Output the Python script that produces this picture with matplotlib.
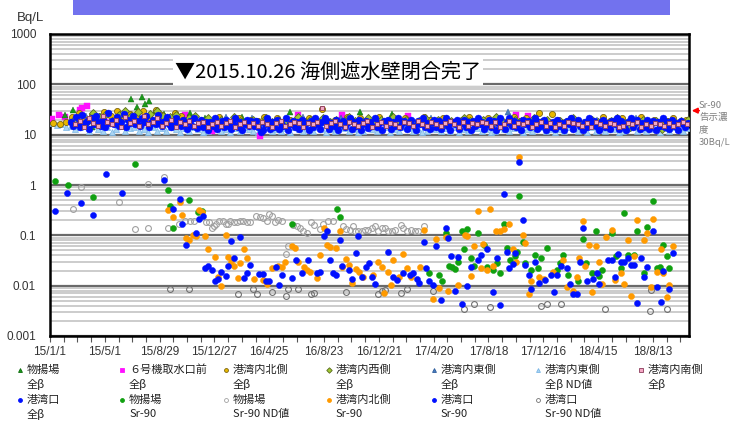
import numpy as np
import matplotlib
matplotlib.use("Agg")
import matplotlib.pyplot as plt
from matplotlib.lines import Line2D
from matplotlib.ticker import FixedLocator, NullFormatter
import matplotlib.dates as mdates

plt.rcParams['font.family'] = ['Noto Sans CJK JP', 'DejaVu Sans']

base = np.datetime64('2015-01-01')

# --- routine all-beta sampling (start day, interval in days, values Bq/L) ---
kouwanguchi_beta_start, kouwanguchi_beta_step = 46, 5
kouwanguchi_beta = [
    18, 15, 22, 16, 14, 25, 17, 19, 13, 21,
    16, 24, 18, 15, 20, 14, 27, 17, 19, 16,
    22, 15, 18, 26, 14, 20, 17, 23, 16, 19,
    15, 21, 18, 24, 14, 17, 20, 16, 25, 18,
    15, 19, 22, 16, 14, 18, 21, 17, 15, 20,
    16, 13, 19, 15, 21, 13.5, 17, 20, 14, 18,
    12.5, 18, 15, 21, 13, 16, 19, 14, 20, 15,
    13, 17, 21, 14, 18, 12.5, 16, 20, 15, 19,
    15, 19, 14, 11.5, 12.5, 16, 21, 13, 18, 14,
    20, 13, 17, 15, 21, 12.5, 16, 19, 14, 18,
    13, 20, 15, 17, 12.5, 19, 14, 21, 16, 13,
    18, 21, 19, 13, 17, 15, 20, 12.5, 16, 19,
    14, 17, 21, 13, 18, 15, 20, 12.5, 16, 19,
    13.5, 18, 15, 21, 14, 17, 12.5, 19, 16, 20,
    13, 18, 15, 21, 14, 17, 19, 13, 16, 20,
    15, 12.5, 19, 16, 21, 14, 17, 13, 18, 20,
    14, 19, 13, 17, 21, 15, 12.5, 18, 16, 20,
    13, 17, 20, 14, 18, 12.5, 19, 15, 21, 16,
    18, 13, 16, 20, 14, 19, 12.5, 17, 21, 15,
    13, 18, 21, 15, 19, 14, 17, 12.5, 20, 16,
    19, 14, 17, 21, 13, 18, 15, 20, 12.5, 16,
    14, 18, 13, 20, 15, 17, 12.5, 19, 16, 21,
    13, 17, 20, 15, 12.5, 18, 14, 21, 16, 19,
    15, 12.5, 18, 20, 14, 17, 13, 19, 16, 21,
    13, 19, 15, 12.5, 18, 21, 14, 17, 20, 13,
    17, 14, 20, 13, 16, 19, 12.5, 18, 15, 21,
    14, 18, 13, 20, 15, 17, 12.5, 19, 16, 14,
    17,
]

minami_beta_start, minami_beta_step = 55, 10
minami_beta = [
    16, 19, 14, 21, 17, 15, 23, 18, 16, 20,
    14, 22, 17, 19, 15, 24, 16, 18, 21, 15,
    17, 20, 14, 18, 16, 19, 15, 17, 18, 14,
    16, 18, 15, 17, 19, 14, 16, 18, 15, 17,
    15, 18, 16, 14, 17, 19, 15, 16, 18, 17,
    14, 17, 16, 18, 34, 15, 17, 19, 16, 14,
    18, 16, 15, 17, 19, 14, 16, 18, 15, 17,
    16, 14, 18, 17, 15, 19, 16, 15, 18, 16,
    15, 17, 19, 16, 14, 18, 15, 17, 16, 18,
    17, 15, 18, 14, 16, 19, 15, 17, 16, 18,
    14, 16, 18, 15, 17, 14, 16, 15, 18, 17,
    16, 15, 17, 14, 18, 16, 15, 17, 16, 14,
    15, 17, 16, 18, 14, 16, 15, 17, 16, 15,
    17, 15, 16, 18, 16,
]

kita_beta_start, kita_beta_step = 7, 14
kita_beta = [
    17, 16.5, 18, 22, 27, 20, 25, 19, 28, 23,
    30, 21, 26, 24, 29, 22, 31, 25, 20, 27,
    24, 19, 21, 18, 20, 17, 22, 19, 18, 21,
    17, 20, 19, 22, 18, 21, 17, 20, 19, 18,
    21, 19, 32, 18, 20, 17, 22, 19, 21, 18,
    19, 22, 18, 20, 17, 21, 19, 18, 22, 20,
    18, 21, 19, 17, 20, 22, 18, 19, 21, 17,
    20, 18, 22, 19, 21, 18, 27, 19, 26, 20,
    18, 21, 19, 17, 20, 18, 22, 19, 17, 21,
    19, 17, 22, 18, 20, 16, 19, 21, 18, 20,
]

nishi_beta_start, nishi_beta_step = 52, 14
nishi_beta = [
    20, 24, 18, 27, 22, 26, 19, 25, 29, 23,
    28, 21, 26, 30, 24, 22, 25, 19, 21, 23,
    19, 21, 18, 20, 17, 22, 19, 18, 20, 17,
    21, 18, 20, 19, 17, 22, 18, 20, 19, 21,
    18, 20, 17, 22, 19, 18, 21, 17, 20, 19,
    22, 18, 20, 17, 19, 21, 18, 20, 16, 19,
    18, 21, 19, 17, 20, 18, 22, 19, 17, 20,
    19, 17, 21, 18, 20, 16, 19, 18, 21, 17,
    15, 20, 18, 16, 19, 21, 17, 14, 18, 20,
    17, 19, 13, 18, 16, 19, 20,
]

higashi_beta_start, higashi_beta_step = 50, 28
higashi_beta = [
    19, 24, 21, 26, 22, 20, 23, 25, 21, 19,
    20, 18, 22, 17, 21, 19, 20, 18, 22, 19,
    17, 21, 19, 20, 18, 22, 17, 19, 21, 18,
    20, 19, 17, 21, 28, 18, 20, 19, 17, 21,
    18, 20, 19, 17, 21, 18, 19, 20, 18,
]

higashi_nd_start, higashi_nd_step = 5, 10
higashi_nd = [
    17, 15.6, 16, 14, 15, 13, 14, 16, 12, 15,
    13, 12, 14.5, 11.5, 13, 15, 12, 13.5, 14.5, 12,
    13, 11.5, 14.5, 12, 13.5, 12, 14.5, 13, 11.5, 13.5,
    12, 14.5, 13, 11.5, 12, 13.5, 14.5, 12, 13, 11.5,
    13.5, 12, 14.5, 13, 12, 11.5, 13.5, 14.5, 12, 13,
    12, 13.5, 11.5, 14.5, 13, 12, 13.5, 12, 14.5, 13,
    11.5, 13, 12, 14.5, 13.5, 12, 13, 11.5, 12, 14.5,
    13, 12, 13.5, 14.5, 11.5, 13, 12, 14.5, 13.5, 12,
    13, 11.5, 12, 14.5, 13, 12, 13.5, 12, 14.5, 11.5,
    13, 12, 14.5, 13.5, 12, 13, 11.5, 12, 14.5, 13,
    12, 13.5, 14.5, 11.5, 13, 12, 13.5, 14.5, 12, 13,
    11.5, 13, 12, 14.5, 13.5, 12, 13, 11.5, 14.5, 12,
    13.5, 12, 14.5, 13, 11.5, 12, 13.5, 14.5, 12, 13,
    12, 14.5, 13, 11.5, 13.5, 12, 14.5, 13, 12, 13.5,
]

# --- irregular series: days since 2015-01-01 and values ---
unit6_days = [4, 20, 33, 52, 60, 66, 71, 82, 95, 120, 150, 180, 210, 240, 270, 296, 330,
              354, 400, 440, 460, 500, 542, 580, 639, 680, 720, 783, 830, 880, 930, 980,
              1020, 1046, 1100, 1150, 1200, 1250, 1300, 1350, 1390]
unit6_beta = [20.7, 25, 22.6, 19, 21, 31, 34, 37, 20, 18, 22, 19, 17, 20, 18, 24.5, 17,
              12, 18, 17, 9.2, 18, 25, 17, 25, 18, 16, 24, 17, 18, 16, 17,
              25, 24, 17, 16, 18, 17, 16, 18, 17]

nimotsu_beta_days = [33, 51, 60, 92, 110, 130, 150, 165, 177, 190, 202, 208, 217, 230, 250,
                     270, 306, 340, 380, 420, 460, 500, 525, 560, 600, 640, 678, 710, 748,
                     790, 830, 870, 910, 950, 990, 1030, 1070, 1110, 1150, 1190, 1230, 1270,
                     1310, 1350, 1390]
nimotsu_beta = [25, 31, 22, 14.4, 24, 26, 23, 28, 51, 36, 56, 40, 47, 30, 26,
                24, 27, 21, 19, 22, 18, 20, 28, 19, 21, 18, 28, 20, 26,
                19, 17, 21, 18, 20, 17, 19, 16, 18, 20, 15, 17, 19,
                16, 18, 17]

nimotsu_sr_days = [11, 39, 95, 186, 258, 263, 270, 305, 325, 333, 529, 628, 635,
                   830, 852, 859, 866, 873, 881, 887, 894, 901, 907, 914, 922, 929, 936,
                   951, 956, 970, 978, 985, 993, 1000, 1007, 1019, 1022, 1027, 1036, 1040,
                   1054, 1062, 1068, 1075, 1089, 1109, 1116, 1124, 1135, 1155, 1167, 1173,
                   1186, 1195, 1203, 1208, 1230, 1240, 1251, 1257, 1265, 1278, 1286, 1301,
                   1306, 1321, 1328, 1335, 1343, 1350, 1356]
nimotsu_sr = [1.22, 1.0, 0.58, 2.6, 0.78, 0.38, 0.14, 0.50, 0.29, 0.30, 0.17, 0.33, 0.23,
              0.0178, 0.0163, 0.0124, 0.113, 0.0246, 0.023, 0.0215, 0.030, 0.122, 0.053,
              0.134, 0.035, 0.0246, 0.113, 0.064, 0.023, 0.0205, 0.028, 0.0176, 0.166,
              0.055, 0.032, 0.038, 0.047, 0.605, 0.075, 0.028, 0.0205, 0.041, 0.022,
              0.035, 0.055, 0.0205, 0.028, 0.040, 0.0163, 0.0124, 0.085, 0.028, 0.0178,
              0.122, 0.0155, 0.0205, 0.11, 0.038, 0.022, 0.28, 0.041, 0.041, 0.122,
              0.0176, 0.144, 0.48, 0.022, 0.024, 0.064, 0.038, 0.022]

kita_sr_days = [258, 270, 285, 290, 298, 304, 312, 319, 326, 333, 339, 347, 362, 368, 374,
                385, 389, 396, 403, 411, 417, 424, 431, 447, 467, 474, 485, 500, 507, 514,
                529, 537, 544, 556, 562, 569, 585, 592, 600, 606, 613, 627, 635, 640, 648,
                655, 662, 671, 677, 686, 708, 719, 726, 732, 739, 746, 752, 763, 773, 782,
                790, 810, 819, 838, 845, 852, 866, 872, 893, 908, 914, 922, 929, 936, 944,
                949, 956, 963, 970, 976, 985, 994, 1006, 1013, 1020, 1027, 1035, 1040,
                1049, 1054, 1071, 1082, 1102, 1124, 1131, 1144, 1153, 1159, 1167, 1171,
                1181, 1187, 1195, 1203, 1208, 1217, 1230, 1237, 1251, 1257, 1265, 1272,
                1278, 1286, 1300, 1306, 1316, 1321, 1328, 1337, 1341, 1350, 1356, 1363]
kita_sr = [0.32, 0.23, 0.45, 0.25, 0.087, 0.081, 0.10, 0.098, 0.32, 0.29, 0.095, 0.053,
           0.037, 0.0147, 0.010, 0.10, 0.037, 0.030, 0.025, 0.0145, 0.028, 0.053, 0.036,
           0.0135, 0.0128, 0.011, 0.022, 0.025, 0.023, 0.030, 0.061, 0.056, 0.030, 0.023,
           0.0205, 0.019, 0.0143, 0.040, 0.142, 0.064, 0.058, 0.055, 0.124, 0.024, 0.034,
           0.026, 0.0115, 0.021, 0.019, 0.0147, 0.0163, 0.029, 0.023, 0.0073, 0.019,
           0.0103, 0.032, 0.0146, 0.042, 0.022, 0.0146, 0.024, 0.13, 0.0054, 0.085,
           0.0091, 0.094, 0.0078, 0.0103, 0.10, 0.095, 0.0155, 0.06, 0.30, 0.022, 0.068,
           0.0205, 0.33, 0.025, 0.122, 0.124, 0.134, 0.17, 0.053, 0.030, 3.56, 0.10,
           0.072, 0.0068, 0.0124, 0.0146, 0.0138, 0.019, 0.033, 0.0093, 0.0077, 0.0148,
           0.036, 0.19, 0.025, 0.064, 0.0075, 0.061, 0.030, 0.011, 0.091, 0.13, 0.0128,
           0.0176, 0.011, 0.081, 0.0061, 0.038, 0.20, 0.079, 0.11, 0.0094, 0.21, 0.019,
           0.054, 0.0176, 0.0059, 0.0103, 0.060]

kouwanguchi_sr_days = [11, 38, 67, 95, 123, 158, 250, 270, 284, 290, 298, 319, 327, 334,
                       339, 347, 354, 362, 368, 374, 385, 389, 396, 403, 417, 424, 431, 438,
                       458, 467, 473, 480, 494, 502, 509, 529, 538, 551, 564, 585, 592, 600,
                       606, 613, 620, 627, 635, 640, 655, 662, 670, 675, 684, 692, 698, 704,
                       711, 741, 752, 759, 773, 788, 795, 803, 808, 819, 823, 830, 838, 845,
                       857, 866, 872, 879, 887, 893, 901, 914, 922, 936, 944, 956, 970, 978,
                       985, 994, 1000, 1006, 1013, 1019, 1027, 1035, 1040, 1049, 1054, 1062,
                       1071, 1084, 1097, 1104, 1109, 1118, 1131, 1138, 1146, 1153, 1160,
                       1167, 1175, 1188, 1197, 1203, 1222, 1230, 1238, 1244, 1251, 1257,
                       1265, 1271, 1278, 1286, 1293, 1300, 1306, 1321, 1328, 1337, 1343,
                       1356, 1363]
kouwanguchi_sr = [0.30, 0.70, 0.43, 0.25, 1.63, 0.68, 1.24, 0.33, 0.53, 0.166, 0.064,
                  0.113, 0.21, 0.24, 0.022, 0.025, 0.0205, 0.0124, 0.0137, 0.019, 0.0155,
                  0.025, 0.078, 0.036, 0.091, 0.0145, 0.0176, 0.026, 0.017, 0.017, 0.0124,
                  0.0124, 0.023, 0.0103, 0.0165, 0.0145, 0.032, 0.0176, 0.032, 0.018,
                  0.0185, 0.097, 0.122, 0.032, 0.018, 0.016, 0.079, 0.025, 0.0205, 0.0134,
                  0.045, 0.097, 0.0147, 0.024, 0.028, 0.0147, 0.011, 0.047, 0.0147, 0.013,
                  0.018, 0.0163, 0.0176, 0.0137, 0.0114, 0.075, 0.022, 0.0124, 0.0101,
                  0.060, 0.0052, 0.142, 0.087, 0.039, 0.0078, 0.037, 0.0043, 0.0100, 0.023,
                  0.032, 0.040, 0.054, 0.0076, 0.036, 0.0041, 0.65, 0.047, 0.022, 0.027,
                  0.045, 2.86, 0.20, 0.026, 0.0163, 0.0087, 0.030, 0.0114, 0.0130, 0.016,
                  0.0075, 0.0163, 0.025, 0.022, 0.011, 0.0068, 0.0068, 0.030, 0.142,
                  0.0124, 0.0134, 0.0176, 0.011, 0.033, 0.033, 0.0148, 0.042, 0.030, 0.030,
                  0.036, 0.026, 0.026, 0.0046, 0.036, 0.0146, 0.023, 0.122, 0.0094, 0.0048,
                  0.0198, 0.0087, 0.045]

nimotsu_nd_days = [51, 67, 152, 186, 214, 214, 250, 258, 282, 295, 306, 316, 341, 348, 354,
                   359, 363, 371, 378, 385, 390, 395, 403, 410, 417, 423, 432, 438, 452, 460,
                   467, 474, 480, 485, 493, 500, 507, 517, 520, 533, 540, 547, 555, 562, 571,
                   579, 591, 597, 608, 620, 642, 649, 657, 663, 668, 675, 682, 690, 697, 704,
                   711, 719, 726, 733, 741, 748, 755, 768, 773, 781, 790, 799, 806, 819]
nimotsu_nd = [0.34, 0.90, 0.45, 0.134, 0.142, 1.03, 1.47, 0.142, 0.17, 0.19, 0.19, 0.19,
              0.18, 0.18, 0.137, 0.155, 0.17, 0.19, 0.19, 0.17, 0.17, 0.19, 0.18, 0.18,
              0.19, 0.19, 0.18, 0.18, 0.24, 0.23, 0.22, 0.19, 0.27, 0.24, 0.18, 0.20, 0.19,
              0.042, 0.061, 0.16, 0.15, 0.137, 0.122, 0.11, 0.18, 0.16, 0.134, 0.17, 0.19,
              0.19, 0.15, 0.134, 0.13, 0.15, 0.12, 0.12, 0.12, 0.13, 0.13, 0.137, 0.15,
              0.12, 0.137, 0.137, 0.12, 0.12, 0.13, 0.16, 0.137, 0.12, 0.127, 0.12, 0.12,
              0.15]

kouwanguchi_nd_days = [263, 305, 411, 445, 454, 487, 516, 522, 544, 571, 579, 648, 719, 726,
                       733, 768, 782, 838, 907, 929, 963, 1075, 1089, 1118, 1216, 1314, 1316,
                       1350]
kouwanguchi_nd = [0.0085, 0.0085, 0.0067, 0.0086, 0.0068, 0.0076, 0.0063, 0.0086, 0.0085,
                  0.0068, 0.007, 0.0076, 0.0068, 0.0078, 0.0081, 0.007, 0.0086, 0.0079,
                  0.0035, 0.0043, 0.0038, 0.0039, 0.0044, 0.0044, 0.0034, 0.0032, 0.0081,
                  0.0034]

ytick_vals = [0.001, 0.01, 0.1, 1, 10, 100, 1000]
ytick_labels = ['0.001', '0.01', '0.1', '1', '10', '100', '1000']
limit_sr90 = 30
event_text = '▼2015.10.26 海側遮水壁閉合完了'


def sched(start, step, vals):
    n = len(vals)
    return base + np.timedelta64(start, 'D') + np.arange(n) * np.timedelta64(step, 'D')


def on_days(days):
    return base + np.asarray(days, dtype='timedelta64[D]')


fig = plt.figure(figsize=(7.31, 4.22), dpi=100)
ax = fig.add_axes([50 / 731, 1 - 336 / 422, 639 / 731, 302 / 422])

# style for each series (also used for the legend)
st = {
    'nimotsu_beta': dict(marker='^', ms=4.2, color='#1a9a1a', mec='#0a6a0a', mew=0.3),
    'unit6': dict(marker='s', ms=3.8, color='#ff10ff', mec='#ff10ff', mew=0.3),
    'kita_beta': dict(marker='o', ms=4.4, color='#e8b800', mec='#7a6410', mew=0.6),
    'nishi_beta': dict(marker='D', ms=3.6, color='#a0c832', mec='#5a6a20', mew=0.6),
    'higashi_beta': dict(marker='^', ms=4.2, color='#4a7ec0', mec='#2a5a9a', mew=0.3),
    'higashi_nd': dict(marker='^', ms=4.2, color='#a9d4f2', mec='#7ab6e6', mew=0.5),
    'minami_beta': dict(marker='s', ms=3.5, color='#f4a8c4', mec='#8a3a5a', mew=0.6),
    'kouwanguchi_beta': dict(marker='o', ms=5.0, color='#0010ff', mec='#0010ff', mew=0.3),
    'nimotsu_sr': dict(marker='o', ms=4.4, color='#10a010', mec='#10a010', mew=0.3),
    'nimotsu_nd': dict(marker='o', ms=4.2, color='none', mec='#a0a0a0', mew=0.8),
    'kita_sr': dict(marker='o', ms=4.4, color='#ff9a00', mec='#ff9a00', mew=0.3),
    'kouwanguchi_sr': dict(marker='o', ms=4.4, color='#0010ff', mec='#0010ff', mew=0.3),
    'kouwanguchi_nd': dict(marker='o', ms=4.2, color='none', mec='#707070', mew=0.8),
}

def draw(x, y, key):
    s = st[key]
    ax.plot(x, y, ls='none', marker=s['marker'], ms=s['ms'], mfc=s['color'],
            mec=s['mec'], mew=s['mew'], zorder=3)

draw(sched(higashi_nd_start, higashi_nd_step, higashi_nd), higashi_nd, 'higashi_nd')
draw(on_days(unit6_days), unit6_beta, 'unit6')
draw(on_days(nimotsu_beta_days), nimotsu_beta, 'nimotsu_beta')
draw(sched(higashi_beta_start, higashi_beta_step, higashi_beta), higashi_beta, 'higashi_beta')
draw(sched(kita_beta_start, kita_beta_step, kita_beta), kita_beta, 'kita_beta')
draw(sched(nishi_beta_start, nishi_beta_step, nishi_beta), nishi_beta, 'nishi_beta')
draw(sched(kouwanguchi_beta_start, kouwanguchi_beta_step, kouwanguchi_beta),
     kouwanguchi_beta, 'kouwanguchi_beta')
draw(sched(minami_beta_start, minami_beta_step, minami_beta), minami_beta, 'minami_beta')

draw(on_days(nimotsu_nd_days), nimotsu_nd, 'nimotsu_nd')
draw(on_days(kouwanguchi_nd_days), kouwanguchi_nd, 'kouwanguchi_nd')
draw(on_days(nimotsu_sr_days), nimotsu_sr, 'nimotsu_sr')
draw(on_days(kita_sr_days), kita_sr, 'kita_sr')
draw(on_days(kouwanguchi_sr_days), kouwanguchi_sr, 'kouwanguchi_sr')

# axes
ax.set_yscale('log')
ax.set_ylim(0.001, 1000)
ax.set_xlim(mdates.date2num(base), mdates.date2num(base + np.timedelta64(1399, 'D')))
ax.set_yticks(ytick_vals)
ax.set_yticklabels(ytick_labels)
ax.yaxis.set_minor_formatter(NullFormatter())
ax.tick_params(axis='y', which='both', length=0, labelsize=8.5, colors='#333333', pad=10)

major_x = [base + np.timedelta64(120 * k, 'D') for k in range(12)]
minor_x = [base + np.timedelta64(30 * k, 'D') for k in range(47)]
ax.xaxis.set_major_locator(FixedLocator(mdates.date2num(major_x)))
ax.xaxis.set_minor_locator(FixedLocator(mdates.date2num(minor_x)))
xlabels = []
for d in major_x:
    y, m, dd = str(d).split('-')
    xlabels.append(f"{int(y) % 100}/{int(m)}/{int(dd)}")
ax.set_xticklabels(xlabels)
ax.tick_params(axis='x', which='both', length=4, width=0.8, color='#555555',
               labelsize=8.5, labelcolor='#333333', pad=3)
for lab in ax.get_xticklabels() + ax.get_yticklabels():
    lab.set_fontfamily('Liberation Sans')

ax.grid(which='minor', axis='y', color='#c4c4c4', lw=1.2, zorder=0)
ax.grid(which='major', axis='y', color='#6a6a6a', lw=1.6, zorder=0)
ax.grid(which='both', axis='x', visible=False)
ax.set_axisbelow(True)
for sp in ax.spines.values():
    sp.set_color('black')
    sp.set_linewidth(1.8)

# annotation for the seaside impermeable wall closure
fig.text(175 / 731, 1 - 72 / 422, event_text, fontsize=14.5, va='center', ha='left',
         color='black', bbox=dict(facecolor='white', edgecolor='none', pad=1.5))

# Sr-90 limit marker
ax.annotate('', xy=(1.0, limit_sr90), xycoords=('axes fraction', 'data'),
            xytext=(13, 0), textcoords='offset pixels',
            arrowprops=dict(arrowstyle='-|>', color='red', lw=1.2, mutation_scale=8),
            annotation_clip=False)
fig.text(699 / 731, 1 - 101 / 422, f'Sr-90\n告示濃\n度\n{limit_sr90}Bq/L', fontsize=6.8,
         color='#808080', va='top', ha='left', linespacing=1.45)

fig.text(30 / 731, 1 - 18 / 422, 'Bq/L', fontsize=9.5, ha='center', va='center',
         color='#333333', family='Liberation Sans')

# banner
fig.add_artist(plt.Rectangle((73 / 731, 1 - 15 / 422), 597 / 731, 15 / 422,
                             transform=fig.transFigure, color='#7272ee', lw=0))

# legend laid out as 7 columns x 2 rows
legend_rows = [
    [('nimotsu_beta', '物揚場', '全β'), ('unit6', '６号機取水口前', '全β'),
     ('kita_beta', '港湾内北側', '全β'), ('nishi_beta', '港湾内西側', '全β'),
     ('higashi_beta', '港湾内東側', '全β'), ('higashi_nd', '港湾内東側', '全β ND値'),
     ('minami_beta', '港湾内南側', '全β')],
    [('kouwanguchi_beta', '港湾口', '全β'), ('nimotsu_sr', '物揚場', 'Sr-90'),
     ('nimotsu_nd', '物揚場', 'Sr-90 ND値'), ('kita_sr', '港湾内北側', 'Sr-90'),
     ('kouwanguchi_sr', '港湾口', 'Sr-90'), ('kouwanguchi_nd', '港湾口', 'Sr-90 ND値')],
]
col_x = [20, 122, 226, 329, 434, 538, 641]
row_y = [370, 400]
for r, row in enumerate(legend_rows):
    for c, (key, l1, l2) in enumerate(row):
        s = st[key]
        x0 = col_x[c] / 731
        y1 = 1 - row_y[r] / 422
        y2 = 1 - (row_y[r] + 14) / 422
        fig.add_artist(Line2D([x0], [y1], transform=fig.transFigure, ls='none',
                              marker=s['marker'], ms=2.8, mfc=s['color'], mec=s['mec'],
                              mew=0.6))
        fig.text(x0 + 7 / 731, y1, l1, fontsize=8, va='center', ha='left', color='#222222')
        fig.text(x0 + 7 / 731, y2, l2, fontsize=8, va='center', ha='left', color='#222222')

fig.savefig('out.png', dpi=100)
